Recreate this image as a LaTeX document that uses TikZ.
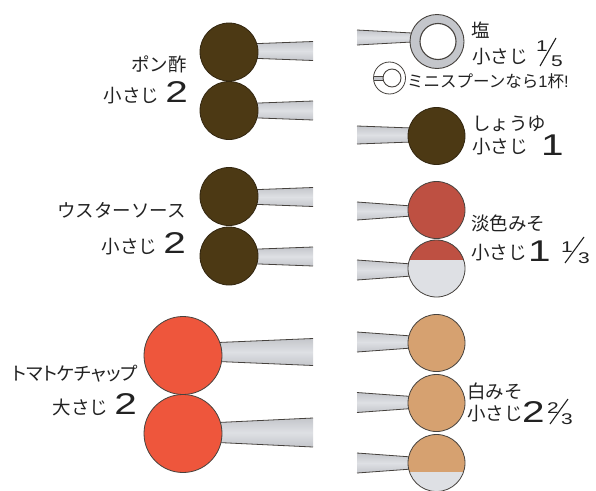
\documentclass[tikz,border=0pt]{standalone}
\usepackage{fontspec}
\newfontfamily\jp{Noto Sans CJK JP}
\newfontfamily\jpp[RawFeature=+palt]{Noto Sans CJK JP}
\newfontfamily\numf{Liberation Sans}
\definecolor{soy}{RGB}{76,57,20}
\definecolor{soyedge}{RGB}{50,38,16}
\definecolor{redmiso}{RGB}{190,80,66}
\definecolor{ketchup}{RGB}{238,86,60}
\definecolor{whitemiso}{RGB}{214,161,112}
\definecolor{emptyfill}{RGB}{222,224,228}
\definecolor{hgray}{RGB}{196,198,203}
\definecolor{hlight}{RGB}{222,224,228}
\definecolor{edge}{RGB}{70,66,62}
\definecolor{txt}{RGB}{34,34,34}
% widened numerals
\newcommand\wide[1]{\scalebox{1.35}[1]{#1}}
% tapered spoon handle: x1, x2, y centre, half width at x1, half width at x2
\newcommand\handle[5]{%
  \shade[top color=hgray, bottom color=hgray, middle color=hlight]
    (#1,#3-#4) -- (#2,#3-#5) -- (#2,#3+#5) -- (#1,#3+#4) -- cycle;
  \draw[handleedge] (#1,#3-#4) -- (#2,#3-#5) (#1,#3+#4) -- (#2,#3+#5);
}
\tikzset{
  handleedge/.style={draw=edge, line width=0.8pt},
  bowl/.style={circle, inner sep=0pt, draw=edge, line width=0.8pt},
  soybowl/.style={bowl, fill=soy, draw=soyedge, minimum size=58pt},
  lbl/.style={font=\jp\fontsize{18.5}{20}\selectfont, text=txt, inner sep=0pt},
  smalllbl/.style={font=\jp\fontsize{16.5}{18}\selectfont, text=txt, inner sep=0pt},
  bignum/.style={font=\numf\fontsize{30}{30}\selectfont, text=txt, inner sep=0pt},
  fracdig/.style={font=\numf\fontsize{15.5}{15.5}\selectfont, text=txt, inner sep=0pt},
  fracslash/.style={draw=txt, line width=1.1pt},
}
\begin{document}
\begin{tikzpicture}[x=1pt,y=-1pt]
\useasboundingbox (0,0) rectangle (596,490);
\fill[white] (0,0) rectangle (596,490);

% ---------- handles, left column ----------
\handle{254}{313}{51}{7.3}{9.5}
\handle{254}{313}{110.5}{7.3}{9.5}
\handle{254}{313}{197}{7.3}{9.5}
\handle{254}{313}{256.5}{7.3}{9.5}
\handle{218}{313}{352}{9.5}{13.5}
\handle{218}{313}{432.5}{10}{14.5}

% ---------- handles, right column ----------
\handle{357}{412}{37.5}{7.5}{4.5}
\handle{357}{412}{135}{9}{7}
\handle{357}{412}{211}{9}{5}
\handle{357}{412}{270}{10}{6}
\handle{357}{412}{342}{10}{6}
\handle{357}{412}{402.5}{10}{6}
\handle{357}{412}{463}{10}{6}

% ---------- bowls, left column ----------
\node[soybowl] (ponzu1) at (229,52) {};
\node[soybowl] (ponzu2) at (229,110.5) {};
\node[soybowl] (worc1) at (229,196.5) {};
\node[soybowl] (worc2) at (229,256) {};
\node[bowl, fill=ketchup, minimum size=78pt] (ket1) at (183,355.5) {};
\node[bowl, fill=ketchup, minimum size=78pt] (ket2) at (183,433.5) {};

% ---------- bowls, right column ----------
% salt: ring spoon and mini spoon
\node[bowl, fill=hgray, minimum size=54pt, line width=0.9pt] (salt) at (437,41.5) {};
\node[bowl, fill=white, minimum size=36pt, line width=1.1pt] (saltin) at (438,41.5) {};
\node[bowl, fill=white, minimum size=32pt] (mini) at (389.5,78) {};
\fill[hgray] (374,76) rectangle (384,80.5);
\draw[handleedge, line width=0.6pt] (374,76) -- (384,76) (374,80.5) -- (384,80.5);
\node[bowl, fill=white, minimum size=18pt, line width=0.9pt] (miniin) at (392,78) {};

\node[soybowl, minimum size=57pt] (soysauce) at (436.5,136) {};
\node[bowl, fill=redmiso, minimum size=57pt] (red1) at (436.5,210) {};

% red miso, one third
\node[bowl, fill=emptyfill, draw=none, minimum size=57pt] (red2) at (436.5,268.5) {};
\begin{scope}
  \clip (436.5,268.5) circle (28.5);
  \fill[redmiso] (400,235) rectangle (470,260);
\end{scope}
\node[bowl, minimum size=57pt] at (red2.center) {};

\node[bowl, fill=whitemiso, minimum size=57pt] (wm1) at (436.5,343) {};
\node[bowl, fill=whitemiso, minimum size=57pt] (wm2) at (436.5,403) {};
% white miso, two thirds
\node[bowl, fill=emptyfill, draw=none, minimum size=57pt] (wm3) at (436.5,463) {};
\begin{scope}
  \clip (436.5,463) circle (28.5);
  \fill[whitemiso] (400,430) rectangle (470,472);
\end{scope}
\node[bowl, minimum size=57pt] at (wm3.center) {};

% ---------- labels, left ----------
\node[lbl, anchor=base east] (ponzuT) at (187,71) {ポン酢};
\node[lbl, anchor=base east] (ponzuQ) at (188,102) {小さじ\hspace{6pt}{\numf\fontsize{30}{30}\selectfont\wide{2}}};
\node[lbl, anchor=base east] (worcT) at (186,217) {ウスターソース};
\node[lbl, anchor=base east] (worcQ) at (186,253) {小さじ\hspace{6pt}{\numf\fontsize{30}{30}\selectfont\wide{2}}};
\node[lbl, anchor=base east, font=\jpp\fontsize{18.5}{20}\selectfont] (ketT) at (138,380) {トマトケチャップ};
\node[lbl, anchor=base east] (ketQ) at (137,414) {大さじ\hspace{6pt}{\numf\fontsize{30}{30}\selectfont\wide{2}}};

% ---------- labels, right ----------
\node[lbl, anchor=base west] (saltT) at (471,37) {塩};
\node[lbl, anchor=base west] (saltQ) at (472,63) {小さじ};
\node[fracdig, anchor=base west] (s1) at (536,51) {\wide{1}};
\draw[fracslash] (540,66) -- (556,38);
\node[fracdig, anchor=base west] (s5) at (551,66) {\wide{5}};
\node[smalllbl, anchor=base west] (miniT) at (407,87) {ミニスプーンなら{\numf\fontsize{16.5}{16.5}\selectfont 1}杯{\numf\fontsize{16.5}{16.5}\selectfont !}};

\node[lbl, anchor=base west] (soyT) at (472,130) {しょうゆ};
\node[lbl, anchor=base west] (soyQ) at (472,153) {小さじ};
\node[bignum, anchor=base west] (soyN) at (541,155) {\wide{1}};

\node[lbl, anchor=base west] (redT) at (471,230) {淡色みそ};
\node[lbl, anchor=base west] (redQ) at (471,259) {小さじ};
\node[bignum, anchor=base west] (redN) at (528,261) {\wide{1}};
\node[fracdig, anchor=base west] (r1) at (561,252) {\wide{1}};
\draw[fracslash] (565,263) -- (584,237);
\node[fracdig, anchor=base west] (r3) at (578,263) {\wide{3}};

\node[lbl, anchor=base west] (wmT) at (467,398) {白みそ};
\node[lbl, anchor=base west] (wmQ) at (467,420) {小さじ};
\node[bignum, anchor=base west] (wmN) at (522,422) {\wide{2}};
\node[fracdig, anchor=base west] (w2) at (547,413) {\wide{2}};
\draw[fracslash] (550,424) -- (568,399);
\node[fracdig, anchor=base west] (w3) at (561,424) {\wide{3}};
\end{tikzpicture}
\end{document}
